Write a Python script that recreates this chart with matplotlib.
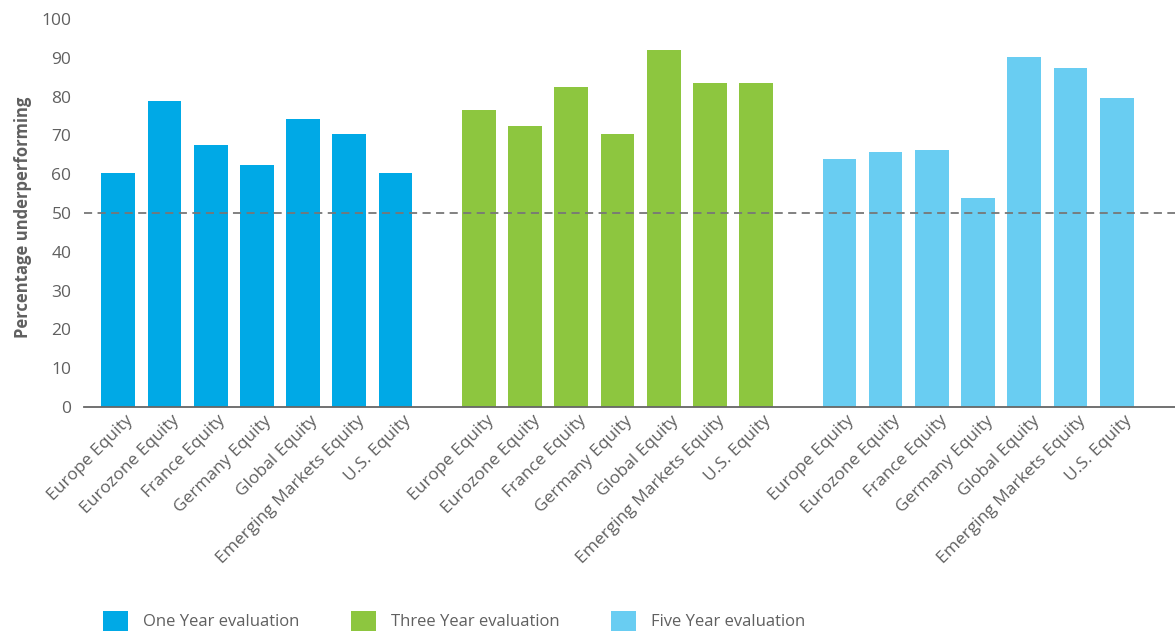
import matplotlib
matplotlib.use("Agg")
import matplotlib.pyplot as plt
from matplotlib.patches import Patch
from matplotlib.transforms import ScaledTranslation
import numpy as np

plt.rcParams['font.family'] = ['Open Sans', 'DejaVu Sans']

categories = ["Europe Equity", "Eurozone Equity", "France Equity", "Germany Equity",
              "Global Equity", "Emerging Markets Equity", "U.S. Equity"]
series_names = ["One Year evaluation", "Three Year evaluation", "Five Year evaluation"]
one_year = [60.3, 78.8, 67.5, 62.5, 74.1, 70.3, 60.3]
three_year = [76.5, 72.5, 82.5, 70.3, 92.1, 83.4, 83.4]
five_year = [63.8, 65.7, 66.2, 53.8, 90.2, 87.5, 79.7]
y_ticks = [0, 10, 20, 30, 40, 50, 60, 70, 80, 90, 100]
threshold = 50

colors = ["#00A9E6", "#8DC63F", "#69CDF2"]
text_gray = "#606060"

fig = plt.figure(figsize=(11.75, 6.37), dpi=100)
ax = fig.add_axes([84/1175, 230/637, 1091/1175, 388/637])

group_step = 7.8
xs_all, labels_all = [], []
for g, vals in enumerate([one_year, three_year, five_year]):
    xs = np.arange(len(categories)) + g * group_step
    ax.bar(xs, vals, width=0.73, color=colors[g], edgecolor='none', zorder=2)
    xs_all.extend(xs)
    labels_all.extend(categories)

ax.axhline(threshold, color="#777777", lw=1.3, ls=(0, (4.5, 3)), zorder=3)

ax.set_xlim(-0.74, 6 + 2 * group_step + 1.26)
ax.set_ylim(0, 100)
ax.set_yticks(y_ticks)
ax.tick_params(axis='y', length=0, pad=9, labelsize=12.5, labelcolor=text_gray)
ax.set_xticks(xs_all)
ax.set_xticklabels(labels_all, rotation=45, ha='right', va='top', rotation_mode='anchor',
                   fontsize=12.5, color=text_gray)
ax.tick_params(axis='x', length=0, pad=4)
shift = ScaledTranslation(7/100, 0, fig.dpi_scale_trans)
for lbl in ax.get_xticklabels():
    lbl.set_transform(lbl.get_transform() + shift)

for s in ['top', 'right', 'left']:
    ax.spines[s].set_visible(False)
ax.spines['bottom'].set_color("#666666")
ax.spines['bottom'].set_linewidth(1.3)
ax.spines['bottom'].set_zorder(4)

ax.set_ylabel("Percentage underperforming", fontsize=12, fontweight='bold', color=text_gray)
ax.yaxis.set_label_coords(-0.048, 0.49)

handles = [Patch(facecolor=c, edgecolor='none') for c in colors]
fig.legend(handles, series_names, loc='center left', bbox_to_anchor=(103/1175, 16/637),
           ncol=3, frameon=False, fontsize=12, labelcolor=text_gray,
           handlelength=1.5, handleheight=1.5, handletextpad=0.9, columnspacing=3.1,
           borderpad=0, borderaxespad=0)

fig.savefig("out.png", dpi=100)
